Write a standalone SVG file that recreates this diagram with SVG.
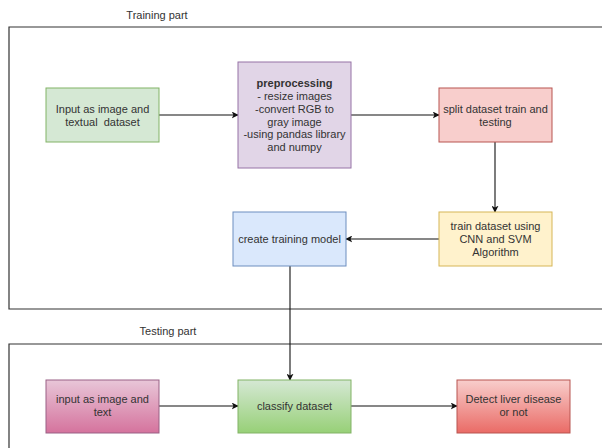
<svg xmlns="http://www.w3.org/2000/svg" width="602" height="448" viewBox="0 0 602 448">
<style>
text{font-family:"Liberation Sans",Arial,sans-serif;font-size:11px;fill:#333;text-anchor:middle}
.frame{fill:none;stroke:#333;stroke-width:1.2}
.edge{fill:none;stroke:#111;stroke-width:1.1}
.lbl{fill:#333}
</style>
<defs>
<marker id="ah" viewBox="0 0 10 10" refX="9" refY="5" markerWidth="7" markerHeight="7" orient="auto" markerUnits="userSpaceOnUse">
<path d="M0,0 L10,5 L0,10 L2.5,5 Z" fill="#111"/>
</marker>
<linearGradient id="gPink" x1="0" y1="0" x2="0" y2="1"><stop offset="0" stop-color="#e8c6d8"/><stop offset="1" stop-color="#d5739d"/></linearGradient>
<linearGradient id="gGreen" x1="0" y1="0" x2="0" y2="1"><stop offset="0" stop-color="#d5e8d4"/><stop offset="1" stop-color="#97d077"/></linearGradient>
<linearGradient id="gRed" x1="0" y1="0" x2="0" y2="1"><stop offset="0" stop-color="#f8cecc"/><stop offset="1" stop-color="#ea6b66"/></linearGradient>
</defs>

<g id="training-frame">
<path class="frame" d="M602,27 H9 V309 H602"/>
<text x="157" y="19" class="lbl">Training part</text>
</g>
<g id="testing-frame">
<path class="frame" d="M602,344 H9 V448"/>
<text x="168" y="335" class="lbl">Testing part</text>
</g>

<g id="connectors">
<line class="edge" x1="159" y1="115" x2="238" y2="115" marker-end="url(#ah)"/>
<line class="edge" x1="351" y1="115" x2="439" y2="115" marker-end="url(#ah)"/>
<line class="edge" x1="495" y1="142" x2="495" y2="212" marker-end="url(#ah)"/>
<line class="edge" x1="439" y1="239" x2="346" y2="239" marker-end="url(#ah)"/>
<line class="edge" x1="290" y1="266" x2="290" y2="380" marker-end="url(#ah)"/>
<line class="edge" x1="159" y1="406" x2="238" y2="406" marker-end="url(#ah)"/>
<line class="edge" x1="351" y1="406" x2="457" y2="406" marker-end="url(#ah)"/>
</g>

<g id="input-train">
<rect x="46" y="88" width="113" height="54" fill="#d5e8d4" stroke="#82b366"/>
<text x="102.5" y="113">Input as image and</text>
<text x="102.5" y="126" xml:space="preserve">textual  dataset</text>
</g>
<g id="preprocessing">
<rect x="238" y="62" width="113" height="106" fill="#e1d5e7" stroke="#9673a6"/>
<text x="294.5" y="87" font-weight="bold">preprocessing</text>
<text x="294.5" y="100">- resize images</text>
<text x="294.5" y="113">-convert RGB to</text>
<text x="294.5" y="126">gray image</text>
<text x="294.5" y="138">-using pandas library</text>
<text x="294.5" y="151">and numpy</text>
</g>
<g id="split">
<rect x="439" y="88" width="113" height="54" fill="#f8cecc" stroke="#b85450"/>
<text x="495.5" y="113">split dataset train and</text>
<text x="495.5" y="126">testing</text>
</g>
<g id="train">
<rect x="439" y="212" width="113" height="54" fill="#fff2cc" stroke="#d6b656"/>
<text x="495.5" y="230">train dataset using</text>
<text x="495.5" y="243">CNN and SVM</text>
<text x="495.5" y="256">Algorithm</text>
</g>
<g id="create-model">
<rect x="233" y="212" width="113" height="54" fill="#dae8fc" stroke="#6c8ebf"/>
<text x="289.5" y="243">create training model</text>
</g>
<g id="input-test">
<rect x="46" y="380" width="113" height="53" fill="url(#gPink)" stroke="#996185"/>
<text x="102.5" y="403">input as image and</text>
<text x="102.5" y="416">text</text>
</g>
<g id="classify">
<rect x="238" y="380" width="113" height="53" fill="url(#gGreen)" stroke="#82b366"/>
<text x="294.5" y="410">classify dataset</text>
</g>
<g id="detect">
<rect x="457" y="380" width="113" height="53" fill="url(#gRed)" stroke="#b85450"/>
<text x="513.5" y="403">Detect liver disease</text>
<text x="513.5" y="416">or not</text>
</g>
</svg>
